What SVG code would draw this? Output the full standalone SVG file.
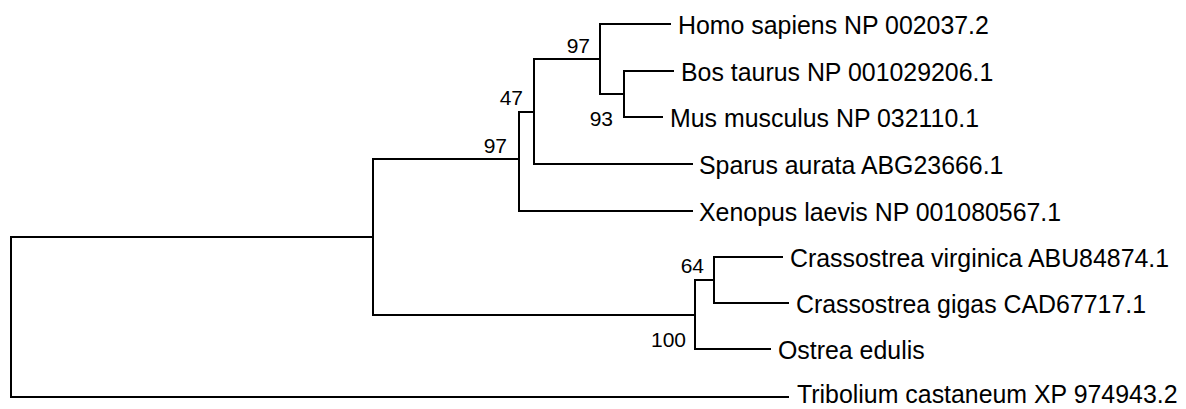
<svg xmlns="http://www.w3.org/2000/svg" width="1186" height="409" viewBox="0 0 1186 409">
<style>
.br{stroke:#000;stroke-width:2;fill:none;stroke-linecap:square}
.leaf{font-family:"Liberation Sans",Arial,sans-serif;font-size:24.9px;fill:#000}
.bs{font-family:"Liberation Sans",Arial,sans-serif;font-size:21px;fill:#000;text-anchor:end}
</style>
<rect width="1186" height="409" fill="#fff"/>
<g id="connectors">
<path class="br" d="M11,237 V397"/>
<path class="br" d="M11,237 H373 M373,159 V315"/>
<path class="br" d="M11,397 H788"/>
<path class="br" d="M373,159 H519 M519,112 V211 M519,211 H692"/>
<path class="br" d="M519,112 H534 M534,59 V164 M534,164 H692"/>
<path class="br" d="M534,59 H600 M600,24 V94 M600,24 H670"/>
<path class="br" d="M600,94 H624 M624,71 V117 M624,71 H673 M624,117 H662"/>
<path class="br" d="M373,315 H695 M695,280 V349 M695,349 H770"/>
<path class="br" d="M695,280 H714 M714,257 V303 M714,257 H782 M714,303 H788"/>
</g>
<g id="homo"><text class="leaf" x="678" y="34">Homo sapiens NP 002037.2</text></g>
<g id="bos"><text class="leaf" x="681" y="81">Bos taurus NP 001029206.1</text></g>
<g id="mus"><text class="leaf" x="670" y="127">Mus musculus NP 032110.1</text></g>
<g id="sparus"><text class="leaf" x="699" y="174">Sparus aurata ABG23666.1</text></g>
<g id="xenopus"><text class="leaf" x="699" y="221">Xenopus laevis NP 001080567.1</text></g>
<g id="cvirginica"><text class="leaf" x="790" y="267">Crassostrea virginica ABU84874.1</text></g>
<g id="cgigas"><text class="leaf" x="796" y="313">Crassostrea gigas CAD67717.1</text></g>
<g id="ostrea"><text class="leaf" x="778" y="359">Ostrea edulis</text></g>
<g id="tribolium"><text class="leaf" x="797" y="403">Tribolium castaneum XP 974943.2</text></g>
<g id="bootstrap">
<text class="bs" x="590" y="53">97</text>
<text class="bs" x="613" y="126">93</text>
<text class="bs" x="523" y="105">47</text>
<text class="bs" x="507" y="153">97</text>
<text class="bs" x="704" y="273">64</text>
<text class="bs" x="686" y="347">100</text>
</g>
</svg>
